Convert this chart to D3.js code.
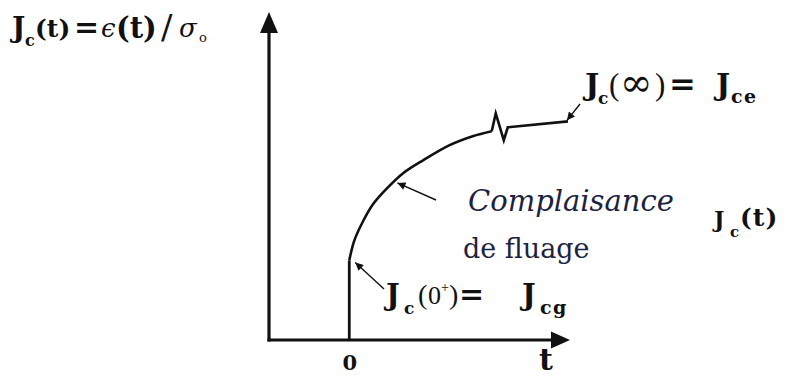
<!DOCTYPE html>
<html><head><meta charset="utf-8">
<script src="https://cdn.jsdelivr.net/npm/d3@7"></script>
<style>
  body { margin: 0; background: #fff; }
  svg { display: block; }
</style>
</head><body>
<svg id="chart" width="789" height="376" font-family="DejaVu Serif"></svg>
<script>
// Creep compliance Jc(t) after the instantaneous jump at t = 0
const creepT = [0, 0.5, 1.4, 2.4, 3.8, 5.4, 7.4, 10.0, 12.3, 14.2];
const creepJ = [8.0, 10.0, 12.0, 13.7, 15.3, 16.8, 18.1, 19.6, 20.5, 21.0];
// Axis break (zigzag) and the long-time branch up to Jc(∞)
const breakT = [14.2, 14.6, 15.4, 15.8, 21.8];
const breakJ = [21.0, 22.8, 20.1, 21.4, 22.0];
// Instantaneous (glassy) compliance Jcg at t = 0+
const jumpT = [0, 0];
const jumpJ = [0, 8.0];
const tickValues = [0];
const tickLabels = ["0"];

const svg = d3.select("#chart");
const x = d3.scaleLinear().domain([-8, 22]).range([269, 570]);
const y = d3.scaleLinear().domain([0, 33]).range([340, 12]);
const ink = "#111";
const LS = "Liberation Serif";

// arrowhead marker for the pointers
const defs = svg.append("defs");
defs.append("marker").attr("id", "tip")
  .attr("viewBox", "0 0 10 10").attr("refX", 10).attr("refY", 5)
  .attr("markerUnits", "userSpaceOnUse").attr("markerWidth", 10).attr("markerHeight", 8)
  .attr("orient", "auto")
  .append("path").attr("d", "M0,0 L10,5 L0,10 Z").attr("fill", ink);

// axes
const [x0, x1] = x.range();
const [yb, yt] = y.range();
svg.append("line").attr("x1", x0).attr("y1", yb + 1.5).attr("x2", x0).attr("y2", yt + 18)
  .attr("stroke", ink).attr("stroke-width", 3.2);
svg.append("path").attr("fill", ink)
  .attr("d", `M${x0},${yt} L${x0 - 9},${yt + 21} L${x0 + 9},${yt + 21} Z`);
svg.append("line").attr("x1", x0 - 1.5).attr("y1", yb).attr("x2", x1 - 16).attr("y2", yb)
  .attr("stroke", ink).attr("stroke-width", 3.2);
svg.append("path").attr("fill", ink)
  .attr("d", `M${x1},${yb} L${x1 - 19},${yb - 8.5} L${x1 - 19},${yb + 8.5} Z`);

// tick label "0"
const axis = d3.axisBottom(x).tickValues(tickValues)
  .tickFormat((d, i) => tickLabels[i]).tickSize(0).tickPadding(15);
const gx = svg.append("g").attr("transform", `translate(0,${yb})`).call(axis);
gx.select(".domain").remove();
gx.attr("font-family", "DejaVu Serif").attr("font-size", 21);
gx.selectAll("text").attr("font-weight", "bold").attr("fill", ink);

svg.append("text").attr("x", 546).attr("y", 370).attr("text-anchor", "middle")
  .attr("font-size", 30).attr("font-weight", "bold").attr("fill", ink).text("t");

// curves
const lin = d3.line().x(d => x(d[0])).y(d => y(d[1]));
const smooth = d3.line().x(d => x(d[0])).y(d => y(d[1])).curve(d3.curveCatmullRom.alpha(0.5));
svg.append("path").datum(d3.zip(jumpT, jumpJ)).attr("d", lin)
  .attr("fill", "none").attr("stroke", ink).attr("stroke-width", 2.8);
svg.append("path").datum(d3.zip(creepT, creepJ)).attr("d", smooth)
  .attr("fill", "none").attr("stroke", ink).attr("stroke-width", 2.6);
svg.append("path").datum(d3.zip(breakT, breakJ)).attr("d", lin)
  .attr("fill", "none").attr("stroke", ink).attr("stroke-width", 2.6)
  .attr("stroke-linejoin", "miter");

// pointer arrows
function pointer(tx, ty, hx, hy) {
  svg.append("line").attr("x1", tx).attr("y1", ty).attr("x2", hx).attr("y2", hy)
    .attr("stroke", ink).attr("stroke-width", 1.4).attr("marker-end", "url(#tip)");
}
pointer(436, 200, x(4.8), y(15.9) + 1);
pointer(384, 289, x(0) + 6, y(creepJ[0]) + 2);
pointer(580, 104, x(breakT[4]) - 1, y(breakJ[4]) - 1);

// labels: each piece placed at its own x / y (subscripts, superscripts)
function formula(parts) {
  const t = svg.append("text").attr("fill", ink);
  parts.forEach(p => {
    const s = t.append("tspan").attr("x", p.x).attr("y", p.y).text(p.s);
    if (p.size) s.attr("font-size", p.size);
    if (p.w) s.attr("font-weight", p.w);
    if (p.it) s.attr("font-style", "italic");
    if (p.f) s.attr("font-family", p.f);
    if (p.ls) s.attr("letter-spacing", p.ls);
  });
  return t;
}

formula([
  { s: "J", x: 12, y: 37, size: 28, w: "bold" },
  { s: "c", x: 25, y: 46, size: 16, w: "bold" },
  { s: "(t)", x: 35, y: 37, size: 25, w: "bold" },
  { s: "=", x: 74, y: 37, size: 30, w: "bold" },
  { s: "ϵ", x: 101, y: 37, size: 26, it: true },
  { s: "(t)", x: 116, y: 38, size: 29, w: "bold" },
  { s: "/", x: 161, y: 39, size: 34 },
  { s: "σ", x: 179, y: 37, size: 26, it: true },
  { s: "o", x: 199, y: 42, size: 13 }
]);

formula([
  { s: "J", x: 585, y: 95, size: 30, w: "bold" },
  { s: "c", x: 598, y: 104, size: 17, w: "bold" },
  { s: "(", x: 609, y: 95, size: 31, f: LS },
  { s: "∞", x: 620, y: 96, size: 39 },
  { s: ")", x: 655, y: 95, size: 31, f: LS },
  { s: "=", x: 669, y: 95, size: 32, w: "bold" },
  { s: "J", x: 716, y: 95, size: 30, w: "bold" },
  { s: "ce", x: 731, y: 103, size: 19, w: "bold", ls: 1.5 }
]);

svg.append("text").attr("x", 468).attr("y", 211).attr("font-size", 29)
  .attr("font-style", "italic").attr("fill", "#1c2340").text("Complaisance");

formula([
  { s: "J", x: 714, y: 227, size: 22, w: "bold" },
  { s: "c", x: 730, y: 237, size: 15, w: "bold" },
  { s: "(t)", x: 740, y: 226, size: 25, w: "bold", ls: 1 }
]);

svg.append("text").attr("x", 463).attr("y", 258).attr("font-size", 27)
  .attr("fill", "#1c2340").text("de fluage");

formula([
  { s: "J", x: 386, y: 305, size: 29, w: "bold" },
  { s: "c", x: 404, y: 314, size: 17, w: "bold" },
  { s: "(", x: 418, y: 304, size: 28, f: LS },
  { s: "0", x: 428, y: 304, size: 26, f: LS },
  { s: "+", x: 441, y: 292, size: 14, f: LS },
  { s: ")", x: 449, y: 304, size: 28, f: LS },
  { s: "=", x: 459, y: 304, size: 30, w: "bold" },
  { s: "J", x: 522, y: 305, size: 29, w: "bold" },
  { s: "cg", x: 540, y: 314, size: 19, w: "bold", ls: 1.5 }
]);
</script>
</body></html>
